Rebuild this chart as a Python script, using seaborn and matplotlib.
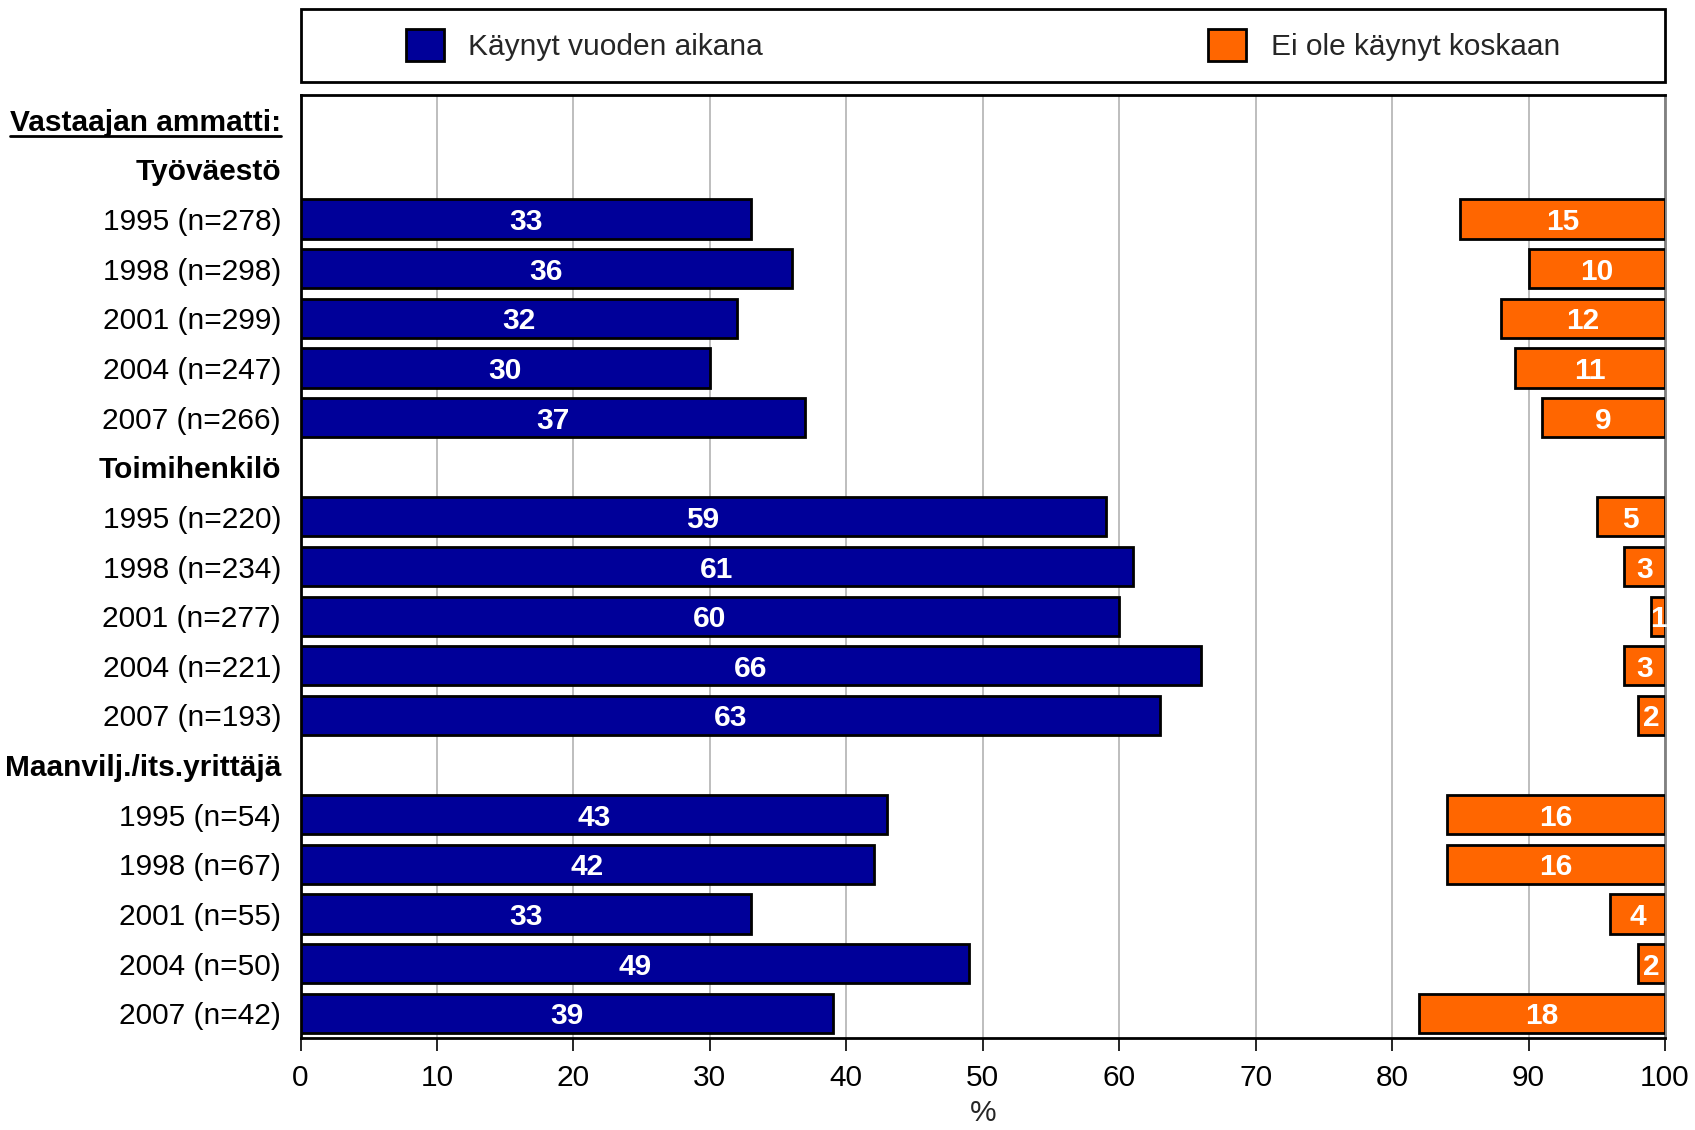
import numpy as np
import pandas as pd
import matplotlib
matplotlib.use("Agg")
import matplotlib.pyplot as plt
import seaborn as sns
from matplotlib.patches import Patch, Rectangle
from matplotlib.lines import Line2D

sns.set_theme(style="white")
plt.rcParams['font.family'] = ['Liberation Sans', 'DejaVu Sans']

header = "Vastaajan ammatti:"
groups = ["Työväestö", "Toimihenkilö", "Maanvilj./its.yrittäjä"]
years_tyo = ["1995 (n=278)", "1998 (n=298)", "2001 (n=299)", "2004 (n=247)", "2007 (n=266)"]
years_toimi = ["1995 (n=220)", "1998 (n=234)", "2001 (n=277)", "2004 (n=221)", "2007 (n=193)"]
years_maan = ["1995 (n=54)", "1998 (n=67)", "2001 (n=55)", "2004 (n=50)", "2007 (n=42)"]

visited_tyo = [33, 36, 32, 30, 37]
visited_toimi = [59, 61, 60, 66, 63]
visited_maan = [43, 42, 33, 49, 39]

never_tyo = [15, 10, 12, 11, 9]
never_toimi = [5, 3, 1, 3, 2]
never_maan = [16, 16, 4, 2, 18]

legend_labels = ["Käynyt vuoden aikana", "Ei ole käynyt koskaan"]
xticks = [0, 10, 20, 30, 40, 50, 60, 70, 80, 90, 100]

BLUE = "#000099"
ORANGE = "#FF6600"

# Build table
labels = [header]
blue = [np.nan]
orange = [np.nan]
for g, yrs, b, o in zip(groups, [years_tyo, years_toimi, years_maan],
                        [visited_tyo, visited_toimi, visited_maan],
                        [never_tyo, never_toimi, never_maan]):
    labels.append(g); blue.append(np.nan); orange.append(np.nan)
    labels += yrs; blue += b; orange += o
df = pd.DataFrame({"label": labels, "blue": blue, "orange": orange})

fig = plt.figure(figsize=(16.95, 11.3), dpi=100)
W, H = 1695, 1130
ax_l, ax_r, ax_t, ax_b = 300.5, 1665, 95, 1038
ax = fig.add_axes([ax_l / W, 1 - ax_b / H, (ax_r - ax_l) / W, (ax_b - ax_t) / H])

sns.barplot(data=df, x="blue", y="label", order=labels, color=BLUE, saturation=1,
            edgecolor="black", linewidth=2, width=0.79, errorbar=None, ax=ax, zorder=3)
sns.barplot(data=df, x="orange", y="label", order=labels, color=ORANGE, saturation=1,
            edgecolor="black", linewidth=2, width=0.79, errorbar=None, ax=ax, zorder=3)

# shift orange bars so they end at 100
for p in ax.containers[1]:
    p.set_x(100 - p.get_width())

fs = 21.5
for cont in ax.containers:
    vals = [int(round(p.get_width())) for p in cont]
    txts = ax.bar_label(cont, labels=[str(v) for v in vals], label_type="center",
                        color="white", fontweight="bold", fontsize=fs, zorder=4)
    for t in txts:
        t.set_va("center_baseline")

ax.set_xlim(0, 100)
ax.set_ylim(len(labels) - 0.5, -0.5)
ax.set_xticks(xticks)
ax.set_xticklabels([str(t) for t in xticks], fontsize=fs)
ax.set_yticks(range(len(labels)))
ax.set_yticklabels(labels, fontsize=fs)
for t in ax.get_yticklabels():
    if t.get_text() in groups or t.get_text() == header:
        t.set_fontweight("bold")
ax.tick_params(axis="y", length=0, pad=14, colors="black")
ax.tick_params(axis="x", length=9, width=1.2, direction="out", pad=10, colors="black", bottom=True)
ax.set_xlabel("%", fontsize=fs, labelpad=5)
ax.set_ylabel("")
ax.grid(axis="x", color="#b3b3b3", linewidth=1.2, zorder=0)
ax.set_axisbelow(True)
for s in ["left", "top", "bottom"]:
    ax.spines[s].set_color("black")
    ax.spines[s].set_linewidth(2)
ax.spines["right"].set_color("#808080")
ax.spines["right"].set_linewidth(2)

# Legend frame + legend
fig.add_artist(Rectangle((ax_l / W, 1 - 82 / H), (ax_r - ax_l) / W, (82 - 8.6) / H,
                         transform=fig.transFigure, fill=False, edgecolor="black", linewidth=2))
handles = [Patch(facecolor=BLUE, edgecolor="black", linewidth=2),
           Patch(facecolor=ORANGE, edgecolor="black", linewidth=2)]
fig.legend(handles, legend_labels, loc="center", ncol=2, frameon=False,
           bbox_to_anchor=((ax_l + ax_r) / 2 / W, 1 - 45 / H), fontsize=fs,
           handlelength=1.27, handleheight=1.3, handletextpad=0.83, columnspacing=14.9)

# underline header
fig.canvas.draw()
renderer = fig.canvas.get_renderer()
for t in ax.get_yticklabels():
    if t.get_text() == header:
        bb = t.get_window_extent(renderer)
        inv = fig.transFigure.inverted()
        (x0, y0) = inv.transform((bb.x0, bb.y0 + 1))
        (x1, _) = inv.transform((bb.x1, bb.y0 + 1))
        fig.add_artist(Line2D([x0, x1], [y0, y0], transform=fig.transFigure,
                              color="black", linewidth=2))

fig.savefig("out.png", dpi=100)
